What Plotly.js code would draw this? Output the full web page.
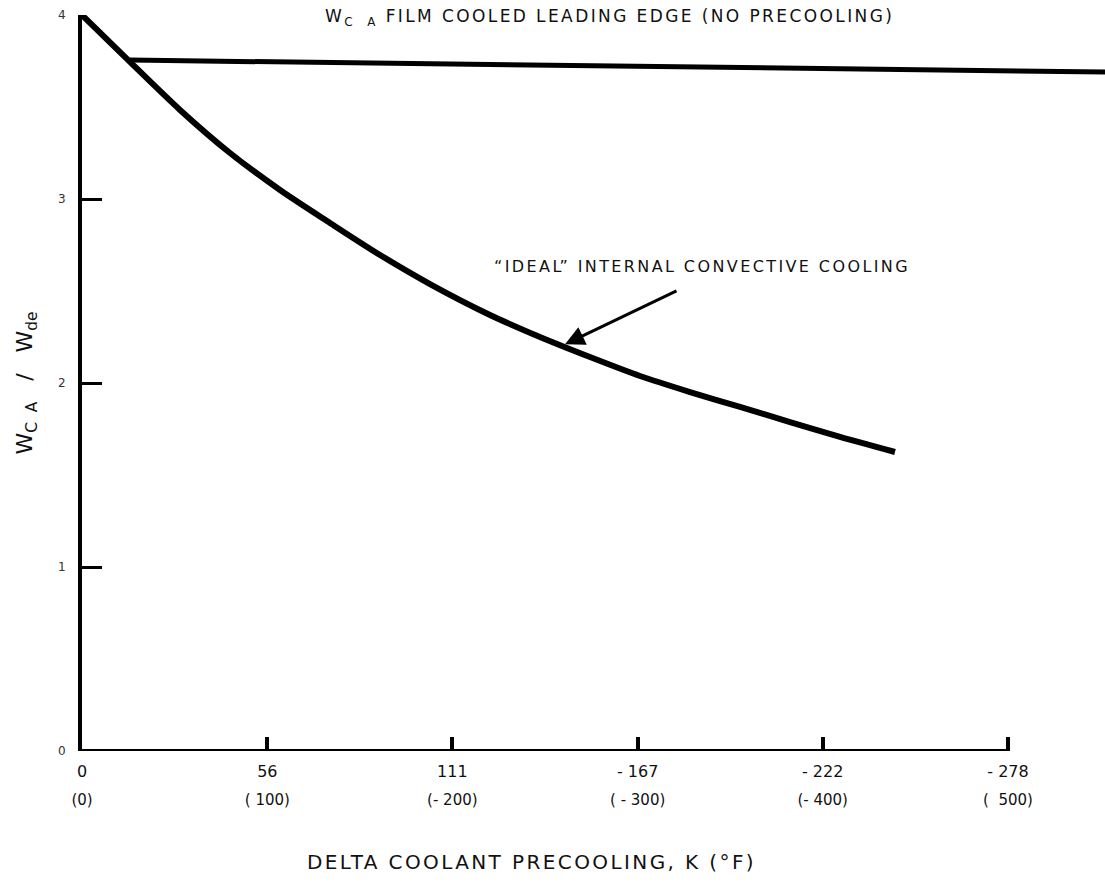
<!DOCTYPE html>
<html>
<head>
<meta charset="utf-8">
<script src="https://cdn.plot.ly/plotly-3.0.1.min.js"></script>
<style>
html,body{margin:0;padding:0;background:#fff;}
#chart{width:1105px;height:884px;}
.annotation-text{letter-spacing:2.4px;}
</style>
</head>
<body>
<div id="chart"></div>
<script>
// Delta coolant precooling, K
const idealX = [0, 14.4, 29.4, 44.4, 59.4, 74.4, 89.4, 104.4, 122.4, 137.4, 152.4, 167.4, 182.4, 197.4, 212.4, 227.4, 243.9];
// W_CA / W_de, ideal internal convective cooling
const idealY = [4.0, 3.745, 3.484, 3.25, 3.049, 2.87, 2.696, 2.538, 2.37, 2.25, 2.141, 2.038, 1.951, 1.87, 1.788, 1.707, 1.625];
// Film cooled leading edge (no precooling), reference level
const filmX = [14.4, 306.9];
const filmY = [3.755, 3.69];

const xTickVals = [0, 55.6, 111.1, 166.7, 222.2, 277.8];
const xTickK = ["0", "56", "111", "- 167", "- 222", "- 278"];
const xTickF = ["(0)", "( 100)", "(- 200)", "( - 300)", "(- 400)", "(  500)"];
const yTickVals = [0, 1, 2, 3, 4];
const yTickText = ["0", "1", "2", "3", "4"];

const FONT = "DejaVu Sans, Liberation Sans, sans-serif";

const traces = [
  {x: idealX, y: idealY, type: "scatter", mode: "lines", line: {color: "#000", width: 6, shape: "spline", smoothing: 0.8}, cliponaxis: false, hoverinfo: "skip", showlegend: false},
  {x: filmX, y: filmY, type: "scatter", mode: "lines", line: {color: "#000", width: 5}, cliponaxis: false, hoverinfo: "skip", showlegend: false},
  {x: [0], y: [0], xaxis: "x2", type: "scatter", mode: "markers", marker: {opacity: 0}, hoverinfo: "skip", showlegend: false}
];

const xRange = [0, 306.9];

const layout = {
  width: 1105, height: 884,
  margin: {l: 82, r: 0, t: 15, b: 133},
  paper_bgcolor: "#fff", plot_bgcolor: "#fff",
  font: {family: FONT, color: "#111"},
  showlegend: false,
  xaxis: {
    range: xRange, showgrid: false, zeroline: false, showline: false,
    tickmode: "array", tickvals: xTickVals, ticktext: xTickK,
    ticks: "inside", ticklen: 14, tickwidth: 4, tickcolor: "#000",
    ticklabelstandoff: 9,
    tickfont: {size: 16, family: FONT, color: "#111"}
  },
  xaxis2: {
    overlaying: "x", matches: "x", side: "bottom", anchor: "y",
    range: xRange, showgrid: false, zeroline: false, showline: false,
    tickmode: "array", tickvals: xTickVals, ticktext: xTickF,
    ticks: "", ticklabelstandoff: 38,
    tickfont: {size: 15, family: FONT, color: "#111"}
  },
  yaxis: {
    range: [0, 4], showgrid: false, zeroline: false,
    showline: true, linewidth: 4, linecolor: "#000",
    tickmode: "array", tickvals: yTickVals, ticktext: yTickText,
    ticks: "inside", ticklen: 20, tickwidth: 3, tickcolor: "#000",
    ticklabelstandoff: 10,
    tickfont: {size: 12, family: FONT, color: "#333"},
    title: {text: "W<sub>C  A</sub>   /   W<sub>de</sub>", font: {size: 22, family: FONT, color: "#111"}, standoff: 20}
  },
  shapes: [
    {type: "line", xref: "x", yref: "y", x0: 0, x1: 277.8, y0: 0, y1: 0, line: {color: "#000", width: 4}}
  ],
  annotations: [
    {xref: "paper", yref: "paper", x: 0.439, y: -0.151, xanchor: "center", yanchor: "middle", showarrow: false,
     text: "DELTA COOLANT PRECOOLING, K (°F)", font: {size: 20, family: FONT, color: "#111"}},
    {xref: "x", yref: "y", x: 72.3, y: 3.985, xanchor: "left", yanchor: "middle", showarrow: false,
     text: "W<sub>C  A</sub> FILM COOLED LEADING EDGE (NO PRECOOLING)", font: {size: 17, family: FONT, color: "#111"}},
    {xref: "x", yref: "y", x: 186, y: 2.635, xanchor: "center", yanchor: "middle", showarrow: false,
     text: "“IDEAL” INTERNAL CONVECTIVE COOLING", font: {size: 16, family: FONT, color: "#111"}},
    {xref: "x", yref: "y", x: 144.9, y: 2.21, axref: "x", ayref: "y", ax: 178.8, ay: 2.505,
     showarrow: true, arrowhead: 2, arrowsize: 1.3, arrowwidth: 3, arrowcolor: "#000", text: ""}
  ]
};

Plotly.newPlot("chart", traces, layout, {displayModeBar: false, staticPlot: true});
</script>
</body>
</html>
